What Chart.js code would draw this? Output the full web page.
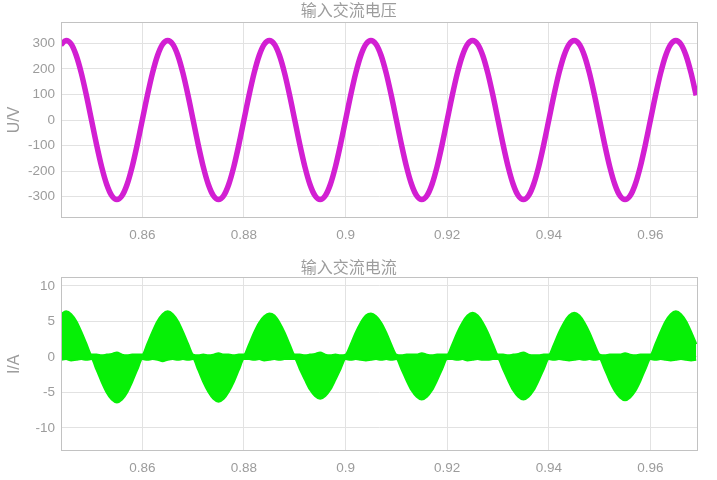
<!DOCTYPE html>
<html>
<head>
<meta charset="utf-8">
<script src="https://cdn.jsdelivr.net/npm/chart.js@4/dist/chart.umd.min.js"></script>
<style>
html,body{margin:0;padding:0;background:#fff;}
.wrap{position:absolute;left:0;width:717px;height:240px;}
</style>
</head>
<body>
<div class="wrap" style="top:0"><canvas id="cU" width="717" height="240"></canvas></div>
<div class="wrap" style="top:240px"><canvas id="cI" width="717" height="240"></canvas></div>
<script>
// ---- data ----
const time = [
  0.844,0.845,0.846,0.847,0.848,0.849,
  0.850,0.851,0.852,0.853,0.854,0.855,0.856,0.857,0.858,0.859,
  0.860,0.861,0.862,0.863,0.864,0.865,0.866,0.867,0.868,0.869,
  0.870,0.871,0.872,0.873,0.874,0.875,0.876,0.877,0.878,0.879,
  0.880,0.881,0.882,0.883,0.884,0.885,0.886,0.887,0.888,0.889,
  0.890,0.891,0.892,0.893,0.894,0.895,0.896,0.897,0.898,0.899,
  0.900,0.901,0.902,0.903,0.904,0.905,0.906,0.907,0.908,0.909,
  0.910,0.911,0.912,0.913,0.914,0.915,0.916,0.917,0.918,0.919,
  0.920,0.921,0.922,0.923,0.924,0.925,0.926,0.927,0.928,0.929,
  0.930,0.931,0.932,0.933,0.934,0.935,0.936,0.937,0.938,0.939,
  0.940,0.941,0.942,0.943,0.944,0.945,0.946,0.947,0.948,0.949,
  0.950,0.951,0.952,0.953,0.954,0.955,0.956,0.957,0.958,0.959,
  0.960,0.961,0.962,0.963,0.964,0.965,0.966,0.967,0.968,0.969
];
const voltage = [
  294,311,297,252,183,96,
  0,-96,-183,-252,-296,-311,-296,-252,-183,-96,
  0,96,183,252,296,311,296,252,183,96,
  0,-96,-183,-252,-296,-311,-296,-252,-183,-96,
  0,96,183,252,296,311,296,252,183,96,
  0,-96,-183,-252,-296,-311,-296,-252,-183,-96,
  0,96,183,252,296,311,296,252,183,96,
  0,-96,-183,-252,-296,-311,-296,-252,-183,-96,
  0,96,183,252,296,311,296,252,183,96,
  0,-96,-183,-252,-296,-311,-296,-252,-183,-96,
  0,96,183,252,296,311,296,252,183,96,
  0,-96,-183,-252,-296,-311,-296,-252,-183,-96,
  0,96,183,252,296,311,296,252,183,96
];
const currentUpper = [
  6.0,6.4,6.0,5.0,3.5,1.8,
  0.3,0.3,0.2,0.3,0.4,0.6,0.3,0.2,0.3,0.3,
  0.3,1.8,3.5,5.0,6.0,6.4,6.0,5.0,3.5,1.8,
  0.3,0.2,0.3,0.2,0.3,0.5,0.3,0.3,0.2,0.3,
  0.3,1.7,3.4,4.8,5.7,6.1,5.8,4.8,3.4,1.7,
  0.3,0.3,0.2,0.3,0.4,0.6,0.3,0.2,0.3,0.2,
  0.3,1.7,3.4,4.8,5.8,6.1,5.7,4.8,3.4,1.7,
  0.3,0.2,0.3,0.3,0.3,0.5,0.3,0.2,0.3,0.3,
  0.3,1.7,3.4,4.8,5.8,6.2,5.8,4.8,3.4,1.7,
  0.3,0.3,0.2,0.3,0.4,0.6,0.3,0.2,0.2,0.3,
  0.3,1.7,3.4,4.8,5.8,6.2,5.8,4.8,3.4,1.7,
  0.3,0.2,0.3,0.3,0.3,0.5,0.3,0.2,0.3,0.3,
  0.3,1.8,3.5,5.0,6.0,6.4,6.0,5.0,3.5,1.8
];
const currentLower = [
  -0.4,-0.3,-0.5,-0.4,-0.3,-0.4,
  -0.3,-1.8,-3.5,-5.0,-6.0,-6.4,-6.0,-5.0,-3.5,-1.8,
  -0.3,-0.4,-0.3,-0.4,-0.6,-0.4,-0.3,-0.4,-0.3,-0.4,
  -0.3,-1.8,-3.5,-4.9,-5.9,-6.3,-5.9,-4.9,-3.5,-1.8,
  -0.3,-0.3,-0.4,-0.3,-0.5,-0.4,-0.3,-0.4,-0.3,-0.3,
  -0.3,-1.7,-3.2,-4.6,-5.5,-5.9,-5.5,-4.6,-3.2,-1.7,
  -0.3,-0.4,-0.3,-0.4,-0.5,-0.4,-0.3,-0.4,-0.3,-0.4,
  -0.3,-1.7,-3.3,-4.7,-5.6,-6.0,-5.6,-4.7,-3.3,-1.7,
  -0.3,-0.3,-0.4,-0.3,-0.5,-0.4,-0.3,-0.4,-0.4,-0.3,
  -0.3,-1.7,-3.3,-4.7,-5.6,-6.0,-5.6,-4.7,-3.3,-1.7,
  -0.3,-0.4,-0.3,-0.4,-0.5,-0.4,-0.3,-0.4,-0.3,-0.4,
  -0.3,-1.7,-3.4,-4.8,-5.7,-6.1,-5.7,-4.8,-3.4,-1.7,
  -0.3,-0.4,-0.3,-0.4,-0.5,-0.4,-0.3,-0.4,-0.5,-0.4
];
const xTicks = [0.86, 0.88, 0.90, 0.92, 0.94, 0.96];
const uTicks = [-300, -200, -100, 0, 100, 200, 300];
const iTicks = [-10, -5, 0, 5, 10];
const titles = ['输入交流电压', '输入交流电流'];
const yTitles = ['U/V', 'I/A'];

// ---- styling ----
const TXT = '#9c9c9c';
const GRID = '#e2e2e2';
const FONT = '"Liberation Sans", Arial, sans-serif';
const CJK = '"Noto Sans CJK SC", sans-serif';
const MAG = '#d21fd2';
const GRN = '#06f006';

const boxPlugin = {
  id: 'box',
  afterDraw(chart) {
    const a = chart.chartArea, c = chart.ctx;
    c.save();
    c.strokeStyle = '#c2c2c2';
    c.lineWidth = 1;
    c.strokeRect(Math.round(a.left) + 0.5, Math.round(a.top) + 0.5,
                 Math.round(a.right - a.left) - 1, Math.round(a.bottom - a.top) - 1);
    c.restore();
  }
};

function pts(ys) { return time.map((t, i) => ({ x: t, y: ys[i] })); }

function makeOptions(cfg) {
  return {
    responsive: false,
    animation: false,
    devicePixelRatio: 1,
    layout: { padding: { left: 0, right: 19.3, top: 0, bottom: 0 } },
    plugins: {
      legend: { display: false },
      tooltip: { enabled: false },
      title: {
        display: true, text: cfg.title, color: TXT,
        font: { family: CJK, size: 16, weight: 'normal' },
        padding: cfg.titlePad
      }
    },
    scales: {
      x: {
        type: 'linear', min: 0.844, max: 0.9693,
        afterBuildTicks: s => { s.ticks = xTicks.map(v => ({ value: v })); },
        afterFit: s => { s.height = cfg.xh; },
        ticks: {
          color: TXT, font: { family: FONT, size: 13.5 }, padding: 9,
          maxRotation: 0, autoSkip: false,
          callback: v => String(+Number(v).toFixed(2))
        },
        grid: { color: GRID, drawTicks: false },
        border: { display: false }
      },
      y: {
        type: 'linear', min: cfg.ymin, max: cfg.ymax,
        afterBuildTicks: s => { s.ticks = cfg.yt.map(v => ({ value: v })); },
        afterFit: s => { s.width = 61; },
        ticks: {
          color: TXT, font: { family: FONT, size: 13.5 }, padding: 6, autoSkip: false
        },
        grid: { color: GRID, drawTicks: false },
        border: { display: false },
        title: {
          display: true, text: cfg.ytitle, color: TXT,
          font: { family: FONT, size: 16 }, padding: { top: 4.6, bottom: 0 }
        }
      }
    }
  };
}

new Chart(document.getElementById('cU'), {
  type: 'line',
  data: {
    datasets: [{
      data: pts(voltage),
      borderColor: MAG, borderWidth: 5.5, pointRadius: 0,
      cubicInterpolationMode: 'monotone', fill: false
    }]
  },
  options: makeOptions({
    title: titles[0], titlePad: { top: 0.4, bottom: 2.4 }, xh: 22,
    ymin: -383, ymax: 383, yt: uTicks, ytitle: yTitles[0]
  }),
  plugins: [boxPlugin]
});

new Chart(document.getElementById('cI'), {
  type: 'line',
  data: {
    datasets: [
      {
        data: pts(currentUpper),
        borderColor: GRN, borderWidth: 2.2, pointRadius: 0,
        cubicInterpolationMode: 'monotone', fill: false
      },
      {
        data: pts(currentLower),
        borderColor: GRN, borderWidth: 2.2, pointRadius: 0,
        cubicInterpolationMode: 'monotone',
        fill: { target: 0 }, backgroundColor: GRN
      }
    ]
  },
  options: makeOptions({
    title: titles[1], titlePad: { top: 17, bottom: 1.1 }, xh: 28.7,
    ymin: -13.3, ymax: 11.2, yt: iTicks, ytitle: yTitles[1]
  }),
  plugins: [boxPlugin]
});
</script>
</body>
</html>
